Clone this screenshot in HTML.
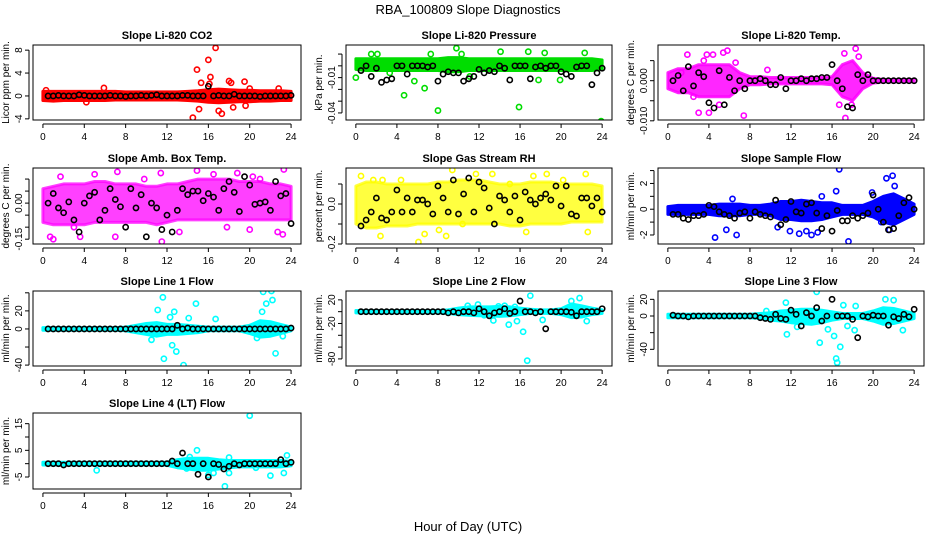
<!DOCTYPE html>
<html><head><meta charset="utf-8">
<style>
body{margin:0;background:#fff;}
svg{display:block;font-family:"Liberation Sans",sans-serif;}
</style></head>
<body>
<svg id="c" width="936" height="540" viewBox="0 0 936 540">
<text x="468" y="14" text-anchor="middle" font-size="13">RBA_100809  Slope Diagnostics</text>
<text x="468" y="531" text-anchor="middle" font-size="13">Hour of Day (UTC)</text>
</svg>
<script>
// ---- data ----
const xTicks = [0,4,8,12,16,20,24];
const titles = ["Slope Li-820 CO2","Slope Li-820 Pressure","Slope Li-820 Temp.","Slope Amb. Box Temp.","Slope Gas Stream RH","Slope Sample Flow","Slope Line 1 Flow","Slope Line 2 Flow","Slope Line 3 Flow","Slope Line 4 (LT) Flow"];
const yLabels = ["Licor ppm per min.","kPa per min.","degrees C per min.","degrees C per min.","percent per min.","ml/min per min.","ml/min per min.","ml/min per min.","ml/min per min.","ml/min per min."];
const colors = ["#ff0000","#00dd00","#ff00ff","#ff00ff","#ffff00","#0000ff","#00ffff","#00ffff","#00ffff","#00ffff"];
const yRanges = [[-4.2,8.9],[-0.046,0.0177],[-0.0098,0.0089],[-0.17,0.146],[-0.2,0.18],[-2.7,3.2],[-41,42],[-92,35],[-60,30],[-9.5,19]];
const yTickVals = [[-4,0,4,8],[-0.04,-0.03,-0.02,-0.01,0,0.01],[-0.01,-0.005,0,0.005],[-0.15,-0.1,-0.05,0,0.05,0.1],[-0.2,-0.1,0,0.1],[-2,-1,0,1,2,3],[-40,-20,0,20,40],[-80,-60,-40,-20,0,20],[-40,-20,0,20],[-5,0,5,10,15]];
const yTickText = [["-4","0","4","8"],["-0.04","","","-0.01","",""],["-0.010","","0.000",""],["-0.15","","","0.00","",""],["-0.2","","0.0",""],["-2","","0","","2",""],["-40","","0","20",""],["-80","","","-20","","20"],["-40","","0","20"],["-5","","5","","15"]];
const bandOpacity = [1,1,0.85,0.75,0.75,1,1,1,1,1];
// band envelopes at hours 0..24
const bandHi = [
[0.8,0.8,0.8,0.8,0.8,0.8,0.8,0.8,0.7,0.7,0.7,0.7,0.7,0.7,0.8,0.9,1.1,1.2,1.1,1.0,1.0,0.9,0.9,0.9,0.8],
[0.006,0.006,0.006,0.006,0.006,0.006,0.006,0.006,0.006,0.007,0.007,0.006,0.006,0.006,0.006,0.006,0.006,0.006,0.006,0.006,0.006,0.006,0.006,0.006,0.005],
[0.002,0.003,0.003,0.004,0.004,0.004,0.004,0.002,0.001,0.001,0.0008,0.0008,0.0008,0.0008,0.0008,0.0008,0.001,0.004,0.005,0.002,0.0006,0.0003,0.0003,0.0003,0.0003],
[0.06,0.07,0.08,0.08,0.08,0.09,0.09,0.08,0.08,0.08,0.07,0.07,0.08,0.08,0.09,0.1,0.1,0.1,0.1,0.09,0.09,0.09,0.08,0.08,0.07],
[0.09,0.11,0.11,0.1,0.1,0.1,0.1,0.1,0.11,0.11,0.12,0.12,0.12,0.11,0.1,0.1,0.1,0.11,0.11,0.11,0.1,0.1,0.1,0.1,0.09],
[0.2,0.3,0.3,0.3,0.3,0.4,0.4,0.4,0.3,0.3,0.4,0.6,0.6,0.7,0.6,0.5,0.5,0.3,0.3,0.3,0.6,1.0,1.2,0.8,0.4],
[1.5,1.5,1.5,1.5,1.5,1.5,1.5,1.5,2,4,6,7,5,5,4,3,2,2,2,2,4,9,8,5,2],
[2,2,2,2,2,2,2,2,2,3,6,8,8,8,9,8,6,4,3,3,5,13,10,6,3],
[2,2,2,2,2,2,2,2,2,3,4,6,7,8,8,7,5,3,3,3,6,10,9,6,3],
[0.5,0.5,0.5,0.5,0.5,0.5,0.5,0.5,0.5,0.5,0.5,0.5,0.6,1.5,2,2,2,1.5,1.2,1.2,1.2,1.2,1.2,1.2,0.8]];
const bandLo = [
[-0.8,-0.9,-0.8,-0.8,-0.8,-0.8,-0.8,-0.7,-0.7,-0.7,-0.7,-0.7,-0.7,-0.7,-0.8,-0.9,-1.1,-1.2,-1.1,-1.0,-1.0,-0.9,-0.9,-0.8,-0.8],
[-0.003,-0.004,-0.004,-0.004,-0.004,-0.004,-0.004,-0.004,-0.004,-0.005,-0.005,-0.004,-0.004,-0.004,-0.004,-0.004,-0.004,-0.004,-0.004,-0.004,-0.004,-0.004,-0.004,-0.004,-0.003],
[-0.002,-0.003,-0.003,-0.004,-0.004,-0.004,-0.004,-0.002,-0.001,-0.001,-0.0008,-0.0008,-0.0008,-0.0008,-0.0008,-0.0008,-0.001,-0.004,-0.005,-0.002,-0.0006,-0.0003,-0.0003,-0.0003,-0.0003],
[-0.08,-0.09,-0.09,-0.09,-0.09,-0.08,-0.08,-0.08,-0.08,-0.08,-0.08,-0.09,-0.08,-0.07,-0.07,-0.07,-0.07,-0.07,-0.07,-0.07,-0.07,-0.07,-0.07,-0.07,-0.07],
[-0.1,-0.12,-0.12,-0.11,-0.11,-0.11,-0.1,-0.1,-0.1,-0.1,-0.1,-0.1,-0.1,-0.1,-0.1,-0.11,-0.11,-0.1,-0.1,-0.1,-0.1,-0.09,-0.09,-0.09,-0.09],
[-0.4,-0.4,-0.4,-0.4,-0.4,-0.5,-0.5,-0.5,-0.4,-0.4,-0.5,-0.8,-0.8,-0.9,-0.9,-0.8,-0.6,-0.4,-0.4,-0.4,-0.6,-1.0,-1.2,-0.8,-0.4],
[-1.5,-1.5,-1.5,-1.5,-1.5,-1.5,-1.5,-1.5,-2,-4,-6,-8,-6,-6,-5,-4,-2,-2,-2,-2,-5,-9,-8,-5,-2],
[-2,-2,-2,-2,-2,-2,-2,-2,-2,-3,-5,-6,-7,-7,-8,-7,-5,-3,-3,-3,-5,-10,-9,-5,-3],
[-2,-2,-2,-2,-2,-2,-2,-2,-2,-3,-5,-6,-8,-9,-10,-8,-5,-3,-3,-3,-6,-10,-9,-6,-3],
[-0.5,-0.5,-0.5,-0.5,-0.5,-0.5,-0.5,-0.5,-0.5,-0.5,-0.5,-0.5,-0.6,-1.5,-2,-2.5,-2.5,-2,-1.5,-1.2,-1.2,-1.2,-1.2,-1.2,-0.8]];
// colored scatter points outside the dense band: [hour, value]
const outliers = [
[[14.5,-3.8],[14.9,4.6],[15.1,-2.3],[15.3,2.3],[16,6.3],[16.2,3.3],[16.1,2.1],[16.7,8.4],[17,-2.6],[17.3,-3.1],[18,2.6],[18.2,2.3],[19.5,2.5],[18.4,-2],[19.6,-1.7],[5.9,1.4],[4.2,-1.1],[22.8,1.3],[0.3,1],[20,1.3]],
[[0,-0.01],[1.5,0.01],[2.1,0.01],[4.7,-0.025],[5.7,-0.013],[6.7,-0.019],[8,-0.038],[9.8,0.015],[10.3,0.01],[14.1,0.012],[16.8,0.012],[15.9,-0.035],[17.8,-0.012],[18.4,0.011],[19.9,-0.012],[22.3,0.011],[23.9,-0.047],[7.3,0.01],[3.3,-0.006],[11.1,-0.009]],
[[1.9,0.0065],[3.8,0.0065],[4.4,0.0065],[5.4,0.007],[5.8,0.0075],[3.0,-0.008],[4.0,-0.008],[7.4,-0.0087],[5.0,-0.006],[2.5,-0.004],[17.2,0.0068],[18.3,0.008],[18.6,0.006],[17.3,-0.0093],[17.9,-0.006],[16.7,-0.006],[9.7,0.0027],[6.6,0.0045],[1.3,0.002],[3.5,0.005]],
[[0.7,-0.14],[1.0,-0.15],[1.7,0.11],[3.6,-0.14],[7.2,0.13],[7.0,-0.14],[11.4,0.125],[11.5,-0.16],[9.8,0.1],[14.9,0.135],[16.5,0.12],[18.8,0.125],[20.3,0.11],[23.3,0.14],[23.2,-0.13],[20,-0.11],[13.2,-0.12],[22.7,-0.12],[5,0.12],[21,0.1],[3,-0.1],[17.8,-0.1]],
[[0.5,0.14],[1.7,0.12],[2.6,0.12],[2.4,-0.16],[6.1,-0.19],[6.7,-0.15],[8.8,-0.16],[9.4,0.17],[11.7,0.15],[13.3,0.15],[16.6,-0.14],[17.3,0.14],[18.6,0.15],[22.4,0.15],[22.6,-0.14],[10.4,-0.1],[4.4,0.12],[20.2,0.12],[8.1,-0.13],[15,0.1]],
[[4.6,-2.2],[5.7,-1.6],[6.7,-2],[6.3,0.8],[10.7,-1.4],[11.9,-1.7],[12.8,-1.9],[14,-2],[14.6,-1.8],[15,1],[16.4,1.4],[16.7,3.1],[17.6,-2.5],[21.3,2.4],[21.9,2.6],[21.6,-1.6],[19.9,1.3],[22.1,1.8],[13.5,-1.7],[20.8,-1]],
[[11.6,35],[11.1,21],[12.3,13],[12.7,19],[11.7,-33],[12.9,-25],[13.6,-40],[14.8,28],[16.7,11],[21.3,41],[22.1,42],[22.2,32],[21.6,28],[22.5,-27],[21.2,19],[12.5,-18],[14.1,12],[10.5,-12],[20.7,-10],[23.2,-8]],
[[10.9,10],[11.9,12],[13.9,9],[13.4,-15],[14.9,-22],[15.7,-16],[16.3,-34],[16.7,-83],[17.0,27],[18.2,-14],[21.8,23],[22.5,-16],[14.5,10],[15.5,8],[21,18],[12.5,-6]],
[[11.5,16],[11.6,-22],[14.5,29],[14.8,-32],[15.6,-16],[16.2,-24],[16.4,-51],[16.5,-56],[16.8,-37],[17.5,-12],[18.3,12],[18.2,-17],[21.2,20],[22,19],[22.9,-17],[17.1,13],[12.6,-13],[9.6,6]],
[[20.0,18],[13.9,-1.8],[14.2,2.5],[14.9,5],[16,-4.2],[16.5,-3.5],[17.6,-8.5],[18,-3.5],[22,-4.5],[23.3,-3.5],[23.6,3.1],[5.2,-2.5],[18,2.3],[20.6,-1.5]]];
// black points at half-hour intervals (hour = 0.5*(i+1))
const blackVals = [
[0,0,0.1,0,0,0,0.2,0.1,0,0,0,0,0.1,0,0,-0.1,0,0,0.1,0,0.1,0.2,0,0,0,0,0.1,0.1,0,0,0,1.7,0,0.1,0,0,0.3,0,0,0,0,-0.1,0,0,0,0,0,0.1],
[-0.004,0,-0.009,-0.002,-0.014,-0.012,-0.011,0,0,-0.007,0,0,0,-0.001,0,-0.013,-0.007,-0.005,-0.006,-0.006,-0.013,-0.011,-0.009,-0.003,-0.006,-0.004,-0.005,0,-0.002,-0.012,0,0,0,-0.011,-0.001,0,-0.002,0,0,-0.005,-0.007,-0.009,-0.001,0,0,-0.016,-0.006,-0.002],
[0,0.0013,-0.0025,0.0035,-0.0013,0.002,0.001,-0.0055,-0.0068,0.0025,-0.006,0.0008,-0.0025,0,-0.002,0,0,0.0005,0,-0.001,-0.001,0.0008,-0.002,0,0,0.0005,0,0.0005,0.0005,0.0008,0.0008,0.004,0,-0.002,-0.0065,-0.0068,0.0015,0,0.0015,0,0,0,0,0,0,0,0,0],
[0,0.04,-0.02,-0.04,0.005,-0.07,-0.12,0,0.03,0.045,-0.07,-0.03,0.06,0.015,-0.015,-0.1,0.06,-0.02,0.035,-0.14,0,-0.02,-0.11,-0.05,-0.12,-0.03,0.06,0.035,0.05,0.05,0.01,0.04,0.025,-0.03,0.06,0.09,0.045,-0.035,0.11,0.075,-0.005,0,0.005,-0.03,0.09,0.03,0.04,-0.085],
[-0.11,-0.08,-0.04,0.03,-0.07,-0.08,-0.04,0.07,-0.04,0.03,-0.04,0.02,0.02,0,-0.05,0.09,0.03,-0.04,0.12,-0.05,0.05,0.13,-0.04,0.11,0.08,-0.02,-0.1,0.04,0.02,-0.04,0.04,-0.08,0.06,0.02,0,0.03,0.05,0.02,0.09,-0.01,0.09,-0.05,-0.06,0.03,0.03,-0.01,0.03,-0.04],
[-0.4,-0.4,-0.7,-0.8,-0.5,-0.5,-0.4,0.3,0.2,-0.2,-0.4,-0.5,-0.7,-0.3,-0.2,-0.7,-0.2,-0.4,-0.5,-0.6,0.7,-1.2,-0.8,0.6,-0.2,-0.3,0.4,0.5,-0.3,-1.5,-0.5,-1.7,-0.1,-0.9,-0.9,-0.5,-0.7,-0.5,-0.3,1.1,0,-1.0,-1.6,-1.5,-0.5,0.5,0.9,0],
[0,0,0,0,0,0,0,0,0,0,0,0,0,0,0,0,0,0,0,0,0,0,0,0,0,4,0,1,0,0,0,0,0,0,0,0,0,0,0,0,0,0,0,0,0,0,0,1],
[0,0,0,0,0,0,0,0,0,0,0,0,0,0,0,0,0,-2,0,-2,0,0,-2,5,0,-7,-2,0,5,-3,0,18,0,0,-2,0,-29,0,0,0,0,-1,-7,0,0,0,0,5],
[1,0,0,-1,0,0,0,0,0,0,0,0,0,0,0,0,0,-2,-3,-4,2,-3,-4,7,2,-12,4,0,10,-6,0,20,0,0,0,-4,-26,0,-1,1,0,0,-11,-1,-3,2,-1,8],
[0,0,0,-0.5,0,0,0,0,0,0,0,0,0,0,0,0,0,0,0,0,0,0,0,0,1,0,4,0,0,-4,0,-5,0,-0.3,-2,-1,0,-0.5,0,0,0,0,0,0,0,1.5,0,0.5]];

// ---- layout ----
const colX = [[33,301],[346,612],[658,924]];
const rowY = [[45,120],[168,244],[291,366],[413,489]];
const svg = document.getElementById('c');
const NS = 'http://www.w3.org/2000/svg';
function mk(tag, attrs, parent){const e=document.createElementNS(NS,tag);for(const k in attrs)e.setAttribute(k,attrs[k]);(parent||svg).appendChild(e);return e;}

titles.forEach((title, p) => {
  const col = p % 3, row = Math.floor(p / 3);
  const [x0, x1] = colX[col], [y0, y1] = rowY[row];
  const xs = h => x0 + (h + 0.96) / 25.92 * (x1 - x0);
  const [lo, hi] = yRanges[p];
  const ys = v => y1 - (v - lo) / (hi - lo) * (y1 - y0);
  const g = mk('g', {});
  
  
  const clip = mk('clipPath', {id: 'cl' + p}, g);
  mk('rect', {x: x0, y: y0, width: x1 - x0, height: y1 - y0}, clip);
  const plot = mk('g', {'clip-path': 'url(#cl' + p + ')'}, g);
  let pts = [];
  bandHi[p].forEach((v, i) => pts.push(xs(i).toFixed(1) + ',' + ys(v).toFixed(1)));
  for (let i = bandLo[p].length - 1; i >= 0; i--) pts.push(xs(i).toFixed(1) + ',' + ys(bandLo[p][i]).toFixed(1));
  const band = mk('polygon', {points: pts.join(' '), fill: colors[p], 'fill-opacity': bandOpacity[p], stroke: colors[p], 'stroke-width': 3, 'stroke-opacity': bandOpacity[p], 'stroke-linejoin': 'round'}, plot);
  
  
  outliers[p].forEach(([h, v]) => {
    const c = mk('circle', {cx: xs(h), cy: ys(v), r: 2.6, fill: 'none', stroke: colors[p], 'stroke-width': 1.6}, plot);
    
    
  });
  blackVals[p].forEach((v, i) => {
    const c = mk('circle', {cx: xs(0.5 * (i + 1)), cy: ys(v), r: 2.6, fill: 'none', stroke: '#000', 'stroke-width': 1.6}, plot);
    
    
  });
  const box = mk('rect', {x: x0, y: y0, width: x1 - x0, height: y1 - y0, fill: 'none', stroke: '#000', 'stroke-width': 1}, g);
  
  
  const t = mk('text', {x: (x0 + x1) / 2, y: y0 - 6, 'text-anchor': 'middle', 'font-size': 11, 'font-weight': 'bold'}, g);
  t.textContent = title;
  
  
  mk('line', {x1: xs(0), x2: xs(24), y1: y1 + 4, y2: y1 + 4, stroke: '#000'}, g);
  xTicks.forEach(h => {
    mk('line', {x1: xs(h), x2: xs(h), y1: y1 + 4, y2: y1 + 8, stroke: '#000'}, g);
    const tx = mk('text', {x: xs(h), y: y1 + 20, 'text-anchor': 'middle', 'font-size': 10}, g);
    tx.textContent = h;
    
    
  });
  const tv = yTickVals[p];
  mk('line', {x1: x0 - 4, x2: x0 - 4, y1: ys(tv[0]), y2: ys(tv[tv.length - 1]), stroke: '#000'}, g);
  tv.forEach((v, i) => {
    mk('line', {x1: x0 - 8, x2: x0 - 4, y1: ys(v), y2: ys(v), stroke: '#000'}, g);
    if (yTickText[p][i]) {
      const ty = mk('text', {x: x0 - 11, y: ys(v), 'text-anchor': 'middle', 'font-size': 10, transform: 'rotate(-90 ' + (x0 - 11) + ' ' + ys(v) + ')'}, g);
      ty.textContent = yTickText[p][i];
      
      
    }
  });
  const yl = mk('text', {x: x0 - 24, y: (y0 + y1) / 2, 'text-anchor': 'middle', 'font-size': 10, transform: 'rotate(-90 ' + (x0 - 24) + ' ' + ((y0 + y1) / 2) + ')'}, g);
  yl.textContent = yLabels[p];
  
  
});
</script>
</body></html>
